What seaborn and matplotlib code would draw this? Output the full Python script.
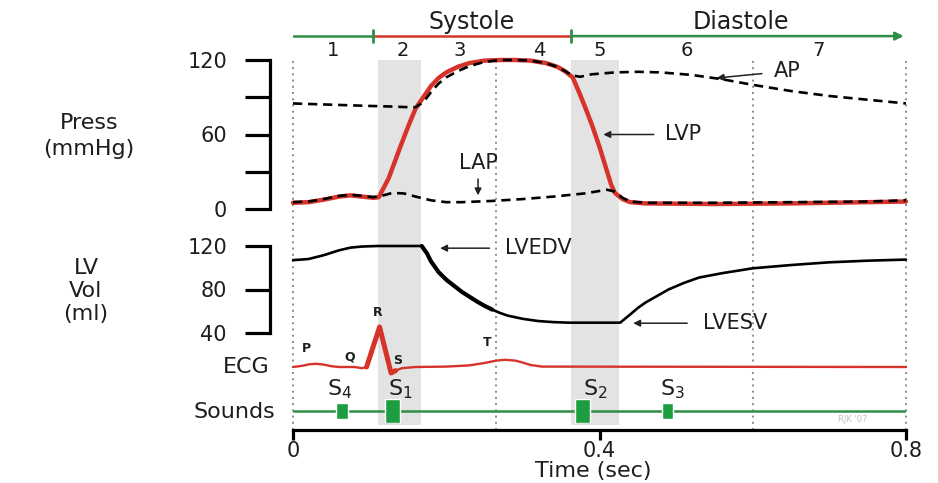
import seaborn as sns
import matplotlib.pyplot as plt
import pandas as pd

W, H = 938, 483

# ---- values (time in seconds) ----
lvp_t = [0.0, 0.02, 0.04, 0.06, 0.075, 0.09, 0.105, 0.112, 0.125, 0.14,
         0.15, 0.16, 0.17, 0.18, 0.19, 0.2, 0.215, 0.23, 0.25, 0.27,
         0.29, 0.31, 0.33, 0.345, 0.355, 0.365, 0.372, 0.38, 0.39, 0.4,
         0.41, 0.415, 0.42, 0.43, 0.44, 0.46, 0.55, 0.65, 0.75, 0.8]
lvp_p = [5, 5.5, 7.5, 10, 11, 10, 9, 9.5, 25, 50,
         66, 81, 90, 99, 105.5, 110, 114.5, 117.5, 119.5, 120,
         120, 119.5, 117.5, 114.5, 111, 106, 96, 84, 68, 50,
         30, 20, 13, 8, 5.5, 4.5, 4, 4.5, 5.5, 6]

ap_t = [0.0, 0.05, 0.1, 0.13, 0.15, 0.16, 0.17, 0.18, 0.19, 0.2,
        0.215, 0.23, 0.25, 0.27, 0.29, 0.31, 0.33, 0.345, 0.355, 0.365,
        0.375, 0.39, 0.42, 0.45, 0.48, 0.52, 0.56, 0.6, 0.65, 0.7,
        0.75, 0.8]
ap_p = [85, 84, 83, 82.5, 82, 82, 86, 94, 101, 106,
        111, 115, 118.5, 120, 120, 119.5, 117.5, 114.5, 111, 107.5,
        106.5, 108.5, 110, 110.5, 110, 108, 104.5, 100, 95, 91,
        88, 85]

lap_t = [0.0, 0.02, 0.04, 0.06, 0.075, 0.09, 0.105, 0.115, 0.13, 0.145,
         0.16, 0.18, 0.2, 0.22, 0.26, 0.3, 0.34, 0.38, 0.41, 0.42,
         0.43, 0.44, 0.46, 0.55, 0.65, 0.75, 0.8]
lap_p = [5.5, 6, 8, 10.5, 11.5, 10.5, 9.5, 10.5, 13, 12.5,
         10, 7, 5.5, 5.5, 6.5, 8, 10, 12.5, 15.5, 14,
         9, 6, 5, 5, 5.5, 6, 7]

vol_t = [0.0, 0.02, 0.04, 0.06, 0.075, 0.09, 0.11, 0.168, 0.175, 0.18,
         0.19, 0.2, 0.21, 0.22, 0.23, 0.24, 0.25, 0.26, 0.27, 0.28,
         0.29, 0.3, 0.32, 0.34, 0.36, 0.427, 0.44, 0.45, 0.46, 0.475,
         0.49, 0.51, 0.53, 0.56, 0.6, 0.65, 0.7, 0.75, 0.8]
vol_v = [107, 108, 111.5, 116, 118.5, 119.5, 120, 120, 113, 106,
         96, 89, 83.5, 78, 73.5, 69, 65, 61.5, 58.5, 56,
         54.5, 53, 51, 50, 49.5, 49.5, 57, 63, 68, 74,
         80, 86, 91, 95, 99.5, 102.5, 105, 106.5, 107.5]

ecg_t = [0.0, 0.012, 0.022, 0.03, 0.04, 0.05, 0.06, 0.08, 0.09, 0.096,
         0.113, 0.128, 0.134, 0.142, 0.16, 0.2, 0.23, 0.25, 0.265, 0.277,
         0.29, 0.3, 0.31, 0.325, 0.8]
ecg_v = [0, 0.03, 0.07, 0.08, 0.06, 0.02, 0, 0, -0.03, 0,
         1.0, -0.15, -0.09, -0.03, 0, 0.01, 0.04, 0.1, 0.16, 0.18,
         0.16, 0.11, 0.05, 0.01, 0]

sound_names = ['S$\\mathregular{_4}$', 'S$\\mathregular{_1}$', 'S$\\mathregular{_2}$', 'S$\\mathregular{_3}$']
sound_t = [0.064, 0.130, 0.378, 0.489]
sound_w = [0.015, 0.019, 0.019, 0.014]
sound_h = [0.67, 1.0, 1.0, 0.67]

phase_labels = ['1', '2', '3', '4', '5', '6', '7']
phase_pos = [0.052, 0.143, 0.218, 0.322, 0.40, 0.514, 0.686]
isovol_bands = [(0.111, 0.167), (0.363, 0.426)]
dotted_t = [0.0, 0.265, 0.6, 0.8]
systole = (0.104, 0.363)

press_ticks = [0, 30, 60, 90, 120]
press_ticklabels = ['0', '', '60', '', '120']
vol_ticks = [40, 80, 120]
time_ticks = [0, 0.4, 0.8]
time_ticklabels = ['0', '0.4', '0.8']

RED = '#d6342b'
GREEN = '#2f8f47'
TXT = '#1e1e1e'

sns.set_style('ticks')
plt.rcParams['font.family'] = ['DejaVu Sans']
plt.rcParams['text.color'] = TXT

fig = plt.figure(figsize=(W / 100, H / 100), dpi=100)


def box(x0, y0, x1, y1):
    # axes placed from a pixel box (origin top-left)
    ax = fig.add_axes([x0 / W, 1 - y1 / H, (x1 - x0) / W, (y1 - y0) / H])
    ax.set_facecolor('none')
    ax.set_xlim(0, 0.8)
    for s in ['top', 'right', 'left', 'bottom']:
        ax.spines[s].set_visible(False)
    ax.set_xticks([])
    ax.set_yticks([])
    return ax


def left_axis(ax, ticks, labels):
    ax.spines['left'].set_visible(True)
    ax.spines['left'].set_position(('outward', 23 * 0.72))
    ax.spines['left'].set_linewidth(2.3)
    ax.spines['left'].set_color('black')
    ax.set_yticks(ticks)
    ax.set_yticklabels(labels, fontsize=15, color=TXT)
    ax.tick_params(axis='y', length=18, width=2.3, pad=13, color='black')


# background: bands, dotted markers and time axis
base = box(293, 60, 906, 430)
base.set_ylim(0, 1)
for a, b in isovol_bands:
    base.axvspan(a, b, ymin=0.014, ymax=1, color='#e3e3e3', lw=0, zorder=0)
for x in dotted_t:
    base.axvline(x, color='#8c8c8c', lw=1.4, ls=(0, (1, 2.2)), clip_on=False, zorder=1)
base.spines['bottom'].set_visible(True)
base.spines['bottom'].set_linewidth(2.3)
base.spines['bottom'].set_color('black')
base.set_xticks(time_ticks)
base.set_xticklabels(time_ticklabels, fontsize=15, color=TXT)
base.tick_params(axis='x', direction='out', length=7, width=2.3, pad=1, color='black')
base.set_xlabel('Time (sec)', fontsize=16, color=TXT)
base.xaxis.set_label_coords(0.49, -0.112)
base.xaxis.label.set_va('center')

# top bar: systole / diastole
top = box(293, 10, 906, 55)
top.set_ylim(0, 1)
yb = 0.42
top.plot([0, systole[0]], [yb, yb], color=GREEN, lw=1.8)
top.plot([systole[0], systole[1]], [yb, yb], color=RED, lw=1.8)
top.annotate('', xy=(0.797, yb), xytext=(systole[1], yb),
             arrowprops=dict(arrowstyle='-|>', color=GREEN, lw=1.8, mutation_scale=12,
                             shrinkA=0, shrinkB=0))
for x in systole:
    top.plot([x, x], [yb - 0.14, yb + 0.14], color=GREEN, lw=2)
top.text(sum(systole) / 2, 0.74, 'Systole', ha='center', va='center', fontsize=17)
top.text(0.585, 0.74, 'Diastole', ha='center', va='center', fontsize=17)
for lab, x in zip(phase_labels, phase_pos):
    top.text(x, 0.1, lab, ha='center', va='center', fontsize=14)

# pressure panel
pax = box(293, 60, 906, 209)
pax.set_ylim(0, 120)
left_axis(pax, press_ticks, press_ticklabels)
sns.lineplot(x=lvp_t, y=lvp_p, ax=pax, color=RED, lw=3.2, clip_on=False, zorder=3)
sns.lineplot(x=ap_t, y=ap_p, ax=pax, color='black', lw=1.9, ls=(0, (3.5, 2.2)),
             clip_on=False, zorder=4)
sns.lineplot(x=lap_t, y=lap_p, ax=pax, color='black', lw=1.9, ls=(0, (3.5, 2.2)),
             clip_on=False, zorder=4)
arrow = dict(arrowstyle='-|>', color='#222222', lw=1.1, mutation_scale=10, shrinkA=6, shrinkB=0)
pax.annotate('AP', xy=(0.553, 105.5), xytext=(0.627, 111), ha='left', va='center',
             fontsize=15, arrowprops=arrow)
pax.annotate('LVP', xy=(0.405, 60), xytext=(0.486, 60), ha='left', va='center',
             fontsize=15, arrowprops=arrow)
pax.annotate('LAP', xy=(0.2415, 11), xytext=(0.2415, 37), ha='center', va='center',
             fontsize=15, arrowprops=dict(arrow, shrinkA=2))
pax.set_xlim(0, 0.8)

# volume panel
vax = box(293, 246, 906, 333)
vax.set_ylim(40, 120)
left_axis(vax, vol_ticks, [str(v) for v in vol_ticks])
vol = pd.DataFrame({'t': vol_t, 'v': vol_v})
eject = vol[(vol.t >= 0.168) & (vol.t <= 0.26)]
sns.lineplot(data=vol, x='t', y='v', ax=vax, color='black', lw=1.9, clip_on=False,
             solid_capstyle='round')
sns.lineplot(data=eject, x='t', y='v', ax=vax, color='black', lw=3.0, clip_on=False,
             solid_capstyle='round')
vax.set_xlabel('')
vax.set_ylabel('')
vax.annotate('LVEDV', xy=(0.192, 118), xytext=(0.277, 118), ha='left', va='center',
             fontsize=15, arrowprops=dict(arrow, shrinkA=9))
vax.annotate('LVESV', xy=(0.444, 49), xytext=(0.535, 49), ha='left', va='center',
             fontsize=15, arrowprops=dict(arrow, shrinkA=9))
vax.set_xlim(0, 0.8)

# ECG panel
eax = box(293, 327, 906, 367)
eax.set_ylim(0, 1)
ecg = pd.DataFrame({'t': ecg_t, 'v': ecg_v})
qrs = ecg[(ecg.t >= 0.096) & (ecg.t <= 0.134)]
sns.lineplot(data=ecg, x='t', y='v', ax=eax, color=RED, lw=1.7, clip_on=False)
sns.lineplot(data=qrs, x='t', y='v', ax=eax, color=RED, lw=3.6, clip_on=False)
eax.set_xlabel('')
eax.set_ylabel('')
for lab, x, y in zip(['P', 'Q', 'R', 'S', 'T'],
                     [0.018, 0.074, 0.11, 0.137, 0.253],
                     [0.475, 0.25, 1.35, 0.175, 0.6]):
    eax.text(x, y, lab, ha='center', va='center', fontsize=9, fontweight='bold')
eax.set_xlim(0, 0.8)

# heart sounds panel
sax = box(293, 399, 906, 423)
sax.set_ylim(-1, 1)
sax.axhline(0, color=GREEN, lw=1.8, zorder=2)
sax.bar(sound_t, [2 * h for h in sound_h], width=sound_w, bottom=[-h for h in sound_h],
        color='#1c9e40', zorder=3)
for lab, x in zip(sound_names, [0.061, 0.14, 0.394, 0.495]):
    sax.text(x, 1.8, lab, ha='center', va='center', fontsize=16)
sax.text(0.73, -0.75, "RJK '07", ha='center', va='center', fontsize=6, color='#c0c0c0')

# row labels
fig.text(89 / W, 1 - 136 / H, 'Press\n(mmHg)', ha='center', va='center', fontsize=16,
         linespacing=1.4)
fig.text(86 / W, 1 - 291 / H, 'LV\nVol\n(ml)', ha='center', va='center', fontsize=16,
         linespacing=1.2)
fig.text(270 / W, 1 - 367 / H, 'ECG', ha='right', va='center', fontsize=16)
fig.text(275 / W, 1 - 412 / H, 'Sounds', ha='right', va='center', fontsize=16)

fig.savefig('out.png', dpi=100)
